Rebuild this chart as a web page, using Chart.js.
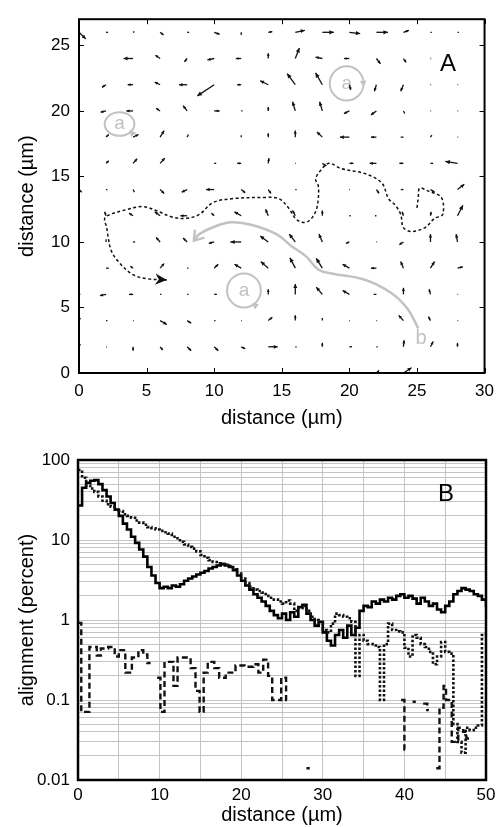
<!DOCTYPE html>
<html>
<head>
<meta charset="utf-8">
<script src="https://cdn.jsdelivr.net/npm/chart.js@4.4.1/dist/chart.umd.min.js"></script>
<style>
  body { margin: 0; background: #fff; width: 502px; height: 827px; overflow: hidden; }
  #wrapA { position: absolute; left: 0; top: 0; width: 502px; height: 430px; }
  #wrapB { position: absolute; left: 0; top: 430px; width: 502px; height: 397px; }
</style>
</head>
<body>
<div id="wrapA"><canvas id="chartA"></canvas></div>
<div id="wrapB"><canvas id="chartB"></canvas></div>
<script>
// ---------- panel A : velocity field ----------
const gridX = [0, 2, 4, 6, 8, 10, 12, 14, 16, 18, 20, 22, 24, 26, 28];
const gridY = [26, 24, 22, 20, 18, 16, 14, 12, 10, 8, 6, 4, 2, 0];
// arrow components (µm) per row of gridY, per column of gridX
const arrowU = [
  [0.5, 0.15, 0.1, 0.25, 0.15, 0.4, 0, 0.3, 0.7, 0.85, 0.8, 0.85, 0.4, 0.1, 0.1],
  [0, 0, -0.7, -0.35, -0.2, -0.5, -0.4, 0, 0.3, -0.5, -0.4, 0.3, 0.2, 0.05, 0],
  [0, -0.3, -0.4, -0.4, -0.6, -1.25, -0.3, -0.6, -0.6, -0.5, 0.1, -0.15, -0.2, 0.05, 0.05],
  [0.1, -0.4, -0.5, -0.3, -0.3, 0.4, 0.1, 0, -0.2, -0.2, -0.4, -0.4, 0.1, 0.05, 0.05],
  [0, 0.2, 0.4, 0.3, 0.1, 0, 0, 0, 0, -0.4, -0.7, -0.4, -0.2, 0.1, 0.05],
  [0, 0.2, 0.3, 0.35, 0, 0.15, -0.3, 0.05, 0.05, 0.3, 0.3, -0.5, -0.3, 0.2, -0.9],
  [0.2, 0.1, 0.1, 0.3, -0.4, -0.6, 0.3, 0.2, 0.1, 0, 0.05, 0.2, -0.2, 0.3, 0.5],
  [0, -0.1, -0.3, -0.4, -0.5, -0.2, -0.5, -0.2, -0.2, 0, 0.1, -0.1, -0.1, 0.05, 0.4],
  [0, 0, 0.15, -0.3, -0.3, -0.4, -0.8, -0.6, -0.45, -0.25, -0.25, 0.05, -0.3, 0, -0.1],
  [0, 0.2, -0.2, 0.3, 0.1, 0.3, -0.5, -0.55, -0.4, -0.45, -0.5, -0.4, -0.2, 0.3, 0.4],
  [0.1, -0.45, -0.3, 0.1, 0.1, 0.2, 0, 0, 0, -0.45, -0.5, -0.2, 0, -0.1, 0.05],
  [0.1, 0.1, 0.05, 0.5, 0.3, 0.1, 0.05, 0.3, 0, 0, 0.05, 0.05, -0.35, -0.15, 0.05],
  [0.1, 0.05, 0, 0.2, 0.3, 0.3, 0.3, 0.7, 0.1, 0, 0.2, 0.1, 0.05, 0.2, 0],
  [0, 0, 0, 0, 0, 0, 0, 0, 0, 0, 0, 0.2, 0.6, 0, 0]
];
const arrowV = [
  [-0.5, 0, 0.05, -0.2, 0, -0.15, -0.2, 0.05, 0.15, 0, -0.1, 0, 0.15, 0, 0],
  [0, 0, 0, 0.25, -0.25, -0.1, 0, 0.4, 0.8, 0.1, 0, -0.4, -0.3, 0, 0],
  [0, -0.2, 0, 0.2, 0, -0.85, 0, 0.3, 0.85, 0.9, -0.4, -0.5, -0.5, 0, 0],
  [0, -0.1, 0, 0.2, 0.4, 0, 0, 0.3, 0.7, 0.7, -0.2, -0.3, -0.2, 0, 0],
  [0, 0.2, 0.2, 0.5, 0.2, 0, 0.15, 0.3, 0.5, 0.4, 0, 0, 0, 0.15, 0],
  [0, 0.2, 0.35, 0.4, 0, 0, 0, 0.4, 0, -0.2, 0, 0, 0, 0, 0.15],
  [-0.2, 0, -0.2, -0.3, -0.2, 0, -0.25, -0.3, 0, 0, 0, -0.3, 0, -0.2, 0.4],
  [0, 0.3, 0.2, 0.3, 0, 0.2, 0.3, 0.5, 0.4, 0.4, 0, 0, 0.3, 0.3, 0.8],
  [0, 0.2, 0, 0.35, 0.3, -0.1, 0, 0.45, 0.6, 0.6, -0.1, 0, -0.2, 0.6, 0.6],
  [0, 0, 0.15, 0.35, 0, 0.3, 0.3, 0.5, 0.8, 0.75, 0.3, 0, 0.5, 0.5, 0.1],
  [0, -0.1, 0, 0, 0, 0, 0, 0.4, 0.8, 0.55, 0.3, 0, 0.5, 0.4, 0],
  [0.2, 0, 0, -0.3, -0.2, 0, 0, 0.25, 0.4, 0.2, 0, 0, 0.4, 0.3, 0],
  [0.2, 0, -0.3, -0.25, -0.3, -0.3, -0.15, 0, 0, 0.3, 0, 0, 0.5, 0.4, 0.3],
  [0, 0, 0, 0, 0, 0, 0, 0, 0, 0, 0, 0.2, 0.4, 0, 0]
];

// dashed trajectory (start on the right, ends at the arrowhead)
const pathX = [25.0, 25.1, 25.2, 25.8, 26.8, 26.9, 26.3, 25.6, 24.6, 24.0, 23.8, 23.4, 22.9, 22.4, 21.2, 19.4, 18.5, 17.9, 17.5, 17.7, 17.7, 17.5, 17.0, 16.5, 16.0, 15.5, 14.8, 13.8, 11.3, 9.9, 8.9, 7.9, 6.9, 5.7, 4.7, 3.25, 2.3, 1.9, 2.05, 2.15, 2.4, 3.0, 4.0, 5.0, 6.5];
const pathY = [12.6, 13.4, 14.1, 13.9, 13.4, 12.1, 11.8, 11.1, 10.8, 11.1, 12.1, 12.8, 13.3, 14.5, 15.2, 15.6, 16.0, 15.5, 14.8, 14.3, 13.3, 12.3, 11.6, 11.5, 11.8, 12.6, 13.3, 13.4, 13.3, 13.0, 12.1, 11.8, 11.9, 12.4, 12.7, 12.4, 12.1, 11.8, 11.1, 10.4, 9.3, 8.4, 7.5, 7.2, 7.1];

// grey drift "b"
const driftX = [25.1, 24.3, 23.1, 21.2, 18.7, 17.7, 16.8, 15.7, 14.6, 12.8, 11.3, 10.1, 8.9, 8.5];
const driftY = [3.4, 4.9, 6.1, 7.1, 7.6, 7.9, 8.9, 9.7, 10.6, 11.3, 11.5, 11.2, 10.6, 10.1];

// grey loops "a"
const loopX = [19.8, 3.0, 12.2];
const loopY = [22.1, 19.0, 6.3];
const loopRx = [1.25, 1.1, 1.25];
const loopRy = [1.3, 0.9, 1.3];
const loopHeadAngle = [5, 40, 55];
const loopHeadDir = [1, -1, -1];
const labelB = { x: 25.3, y: 2.6 };

const ticksA_x = [0, 5, 10, 15, 20, 25, 30];
const ticksA_y = [0, 5, 10, 15, 20, 25];

// ---------- panel B : alignment ----------
const binStep = 0.5;
const solidVals = [
  27, 45, 52, 55, 56, 50, 42, 35, 29, 24,
  20, 16, 13.5, 11, 9.2, 7.6, 6.2, 4.6, 3.6, 2.9,
  2.5, 2.6, 2.5, 2.7, 2.6, 2.8, 3.1, 3.3, 3.5, 3.7,
  3.9, 4.1, 4.4, 4.6, 4.8, 5.0, 4.8, 4.6, 4.2, 3.6,
  3.1, 2.7, 2.4, 2.1, 1.9, 1.7, 1.5, 1.3, 1.15, 1.05,
  1.2, 1.0, 1.25, 1.1, 1.45, 1.55, 1.2, 1.0, 0.85, 0.95,
  0.7, 0.55, 0.48, 0.65, 0.75, 0.6, 0.85, 0.65, 0.8, 1.3,
  1.5, 1.45, 1.7, 1.6, 1.8, 1.7, 1.9, 1.8, 2.0, 2.1,
  1.9, 2.0, 1.85, 1.6, 1.9, 1.7, 1.5, 1.6, 1.35, 1.25,
  1.5, 1.7, 2.1, 2.3, 2.5, 2.4, 2.3, 2.1, 2.0, 1.8,
  1.45
];
const dottedVals = [
  75, 60, 48, 44, 40, 35, 31, 28, 26, 24,
  23, 21, 20, 19, 17.5, 16.5, 15.5, 14.5, 14, 13.5,
  13, 12.5, 12, 11, 10.5, 9.5, 8.8, 8.2, 7.8, 7.2,
  6.5, 6.0, 5.6, 5.3, 5.1, 5.0, 4.9, 4.7, 4.3, 3.8,
  3.3, 2.9, 2.6, 2.4, 2.3, 2.2, 2.0, 1.9, 1.8, 1.7,
  1.6, 1.75, 1.6, 1.3, 1.4, 1.5, 1.3, 1.1, 1.0, 0.9,
  0.75, 0.7, 0.9, 1.2, 1.15, 1.1, 1.05, 0.95, 0.2, 0.65,
  0.55, 0.5, 0.5, 0.46, 0.1, 0.5, 0.9, 0.75, 0.72, 0.7,
  0.45, 0.35, 0.65, 0.6, 0.5, 0.46, 0.4, 0.28, 0.35, 0.53,
  0.4, 0.38, 0.05, 0.03, 0.022, 0.045, 0.042, 0.045, 0.048, 0.65,
  0.7
];
const dashedX = [0, 0.4, 1.4, 2.3, 2.8, 3.7, 4.5, 5.0, 5.8, 6.6, 7.4, 8.0, 8.5, 8.9, 9.0,
  9.7, 10.1, 10.6, 11.7, 12.2, 13.8, 14.4, 14.9, 15.4, 15.9, 16.7, 17.3, 18.1, 19.3, 20.4,
  21.5, 22.1, 22.7, 23.3, 23.8, 24.9, 25.5, 26.0, 26.1, 28.0, 28.4, 28.5,
  39.6, 40.0, 40.3, 40.4, 41.0, 41.4, 41.5, 42.3, 42.8, 43.0, 43.1,
  43.9, 44.3, 44.8, 45.1, 45.8, 46.6, 47.2, 47.6, 48.0, 48.1];
const dashedVals = [0.92, 0.071, 0.46, 0.36, 0.44, 0.46, 0.35, 0.42, 0.22, 0.34, 0.42, 0.37, 0.29, 0.29, null,
  0.19, 0.071, 0.3, 0.15, 0.34, 0.25, 0.13, 0.071, 0.22, 0.3, 0.25, 0.19, 0.22, 0.27, 0.26,
  0.28, 0.22, 0.32, 0.2, 0.1, 0.19, 0.1, 0.1, null, 0.014, 0.014, null,
  0.1, 0.024, 0.024, null, 0.095, 0.095, null, 0.09, 0.075, 0.075, null,
  0.014, 0.08, 0.15, 0.1, 0.03, 0.045, 0.04, 0.033, 0.033, null];

const ticksB_x = [0, 5, 10, 15, 20, 25, 30, 35, 40, 45, 50];
const decadesB = [0.01, 0.1, 1, 10, 100];
const tickLabelsB = ['0.01', '0.1', '1', '10', '100'];
const labelPosB = { x: 45.1, y: 37 };

const FONT = "'Liberation Sans', Arial, Helvetica, sans-serif";

function arrowHead(ctx, x0, y0, x1, y1, size, spread) {
  const a = Math.atan2(y1 - y0, x1 - x0);
  ctx.beginPath();
  ctx.moveTo(x1, y1);
  ctx.lineTo(x1 - size * Math.cos(a - spread), y1 - size * Math.sin(a - spread));
  ctx.lineTo(x1 - size * Math.cos(a + spread), y1 - size * Math.sin(a + spread));
  ctx.closePath();
  ctx.fill();
}

function frame(ctx, area, w) {
  ctx.save();
  ctx.strokeStyle = '#000';
  ctx.lineWidth = w;
  ctx.strokeRect(area.left, area.top, area.right - area.left, area.bottom - area.top);
  ctx.restore();
}

// ---------- chart A ----------
const fieldPlugin = {
  id: 'field',
  beforeDatasetsDraw(chart) {
    const { ctx, scales: { x, y } } = chart;
    ctx.save();
    // grey loops
    ctx.strokeStyle = '#c2c2c2';
    ctx.fillStyle = '#c2c2c2';
    ctx.lineWidth = 2;
    loopX.forEach((cx, i) => {
      const px = x.getPixelForValue(cx), py = y.getPixelForValue(loopY[i]);
      const rx = x.getPixelForValue(cx + loopRx[i]) - px;
      const ry = py - y.getPixelForValue(loopY[i] + loopRy[i]);
      ctx.beginPath();
      ctx.ellipse(px, py, rx, ry, 0, 0, Math.PI * 2);
      ctx.stroke();
      const t = loopHeadAngle[i] * Math.PI / 180;
      const hx = px + rx * Math.cos(t), hy = py + ry * Math.sin(t);
      const dx = Math.sin(t) * loopHeadDir[i], dy = Math.cos(t) * loopHeadDir[i];
      arrowHead(ctx, hx - dx * 6, hy - dy * 6, hx + dx * 2, hy + dy * 2, 7, 0.5);
      ctx.font = '19px ' + FONT;
      ctx.textAlign = 'center';
      ctx.textBaseline = 'middle';
      ctx.fillText('a', px, py);
    });
    ctx.font = '20px ' + FONT;
    ctx.textAlign = 'center';
    ctx.textBaseline = 'middle';
    ctx.fillText('b', x.getPixelForValue(labelB.x), y.getPixelForValue(labelB.y));
    ctx.restore();
  },
  afterDatasetsDraw(chart) {
    const { ctx, scales: { x, y } } = chart;
    ctx.save();
    // quiver arrows
    ctx.strokeStyle = '#111';
    ctx.fillStyle = '#111';
    ctx.lineWidth = 1.3;
    gridY.forEach((gy, r) => {
      gridX.forEach((gx, c) => {
        const u = arrowU[r][c], v = arrowV[r][c];
        if (u === 0 && v === 0) return;
        const x0 = x.getPixelForValue(gx), y0 = y.getPixelForValue(gy);
        const x1 = x.getPixelForValue(gx + u), y1 = y.getPixelForValue(gy + v);
        const len = Math.hypot(x1 - x0, y1 - y0);
        ctx.beginPath();
        ctx.moveTo(x0, y0);
        ctx.lineTo(x1, y1);
        ctx.stroke();
        if (len > 3) arrowHead(ctx, x0, y0, x1, y1, Math.min(5, 1.5 + len * 0.3), 0.45);
      });
    });
    // arrowhead of the dashed trajectory
    const n = pathX.length;
    const ax0 = x.getPixelForValue(pathX[n - 2]), ay0 = y.getPixelForValue(pathY[n - 2]);
    const ax1 = x.getPixelForValue(pathX[n - 1]), ay1 = y.getPixelForValue(pathY[n - 1]);
    const a = Math.atan2(ay1 - ay0, ax1 - ax0);
    ctx.beginPath();
    ctx.moveTo(ax1, ay1);
    ctx.lineTo(ax1 - 13 * Math.cos(a - 0.45), ay1 - 13 * Math.sin(a - 0.45));
    ctx.lineTo(ax1 - 8 * Math.cos(a), ay1 - 8 * Math.sin(a));
    ctx.lineTo(ax1 - 13 * Math.cos(a + 0.45), ay1 - 13 * Math.sin(a + 0.45));
    ctx.closePath();
    ctx.fill();
    // open arrowhead of the grey drift
    const m = driftX.length;
    const bx0 = x.getPixelForValue(driftX[m - 2]), by0 = y.getPixelForValue(driftY[m - 2]);
    const bx1 = x.getPixelForValue(driftX[m - 1]), by1 = y.getPixelForValue(driftY[m - 1]);
    const b = Math.atan2(by1 - by0, bx1 - bx0);
    ctx.strokeStyle = '#c2c2c2';
    ctx.lineWidth = 2.5;
    ctx.beginPath();
    ctx.moveTo(bx1 - 11 * Math.cos(b - 0.6), by1 - 11 * Math.sin(b - 0.6));
    ctx.lineTo(bx1, by1);
    ctx.lineTo(bx1 - 11 * Math.cos(b + 0.6), by1 - 11 * Math.sin(b + 0.6));
    ctx.stroke();
    ctx.restore();
  },
  afterDraw(chart) {
    const { ctx, chartArea, scales: { x, y } } = chart;
    frame(ctx, chartArea, 2);
    ctx.save();
    ctx.strokeStyle = '#000';
    ctx.lineWidth = 1;
    ticksA_x.forEach(v => {
      const px = Math.round(x.getPixelForValue(v)) + 0.5;
      ctx.beginPath();
      ctx.moveTo(px, chartArea.bottom); ctx.lineTo(px, chartArea.bottom - 5);
      ctx.moveTo(px, chartArea.top); ctx.lineTo(px, chartArea.top + 5);
      ctx.stroke();
    });
    ticksA_y.forEach(v => {
      const py = Math.round(y.getPixelForValue(v)) + 0.5;
      ctx.beginPath();
      ctx.moveTo(chartArea.left, py); ctx.lineTo(chartArea.left + 5, py);
      ctx.moveTo(chartArea.right, py); ctx.lineTo(chartArea.right - 5, py);
      ctx.stroke();
    });
    ctx.fillStyle = '#000';
    ctx.font = '24px ' + FONT;
    ctx.textAlign = 'center';
    ctx.textBaseline = 'middle';
    ctx.fillText('A', x.getPixelForValue(27.3), y.getPixelForValue(23.55));
    ctx.restore();
  }
};

new Chart(document.getElementById('chartA'), {
  type: 'scatter',
  data: {
    datasets: [
      {
        data: pathX.map((v, i) => ({ x: v, y: pathY[i] })),
        showLine: true,
        borderColor: '#111',
        borderWidth: 1.5,
        borderDash: [3, 2.5],
        tension: 0.35,
        pointRadius: 0
      },
      {
        data: driftX.map((v, i) => ({ x: v, y: driftY[i] })),
        showLine: true,
        borderColor: '#c2c2c2',
        borderWidth: 2.5,
        tension: 0.4,
        pointRadius: 0
      }
    ]
  },
  options: {
    responsive: true,
    maintainAspectRatio: false,
    animation: false,
    devicePixelRatio: 1,
    layout: { padding: { top: 8, right: 15, left: 0, bottom: 0 } },
    plugins: { legend: { display: false }, tooltip: { enabled: false } },
    scales: {
      x: {
        type: 'linear', min: 0, max: 30,
        afterBuildTicks: s => { s.ticks = ticksA_x.map(v => ({ value: v })); },
        afterFit: s => { s.height = 57; },
        grid: { display: false, drawTicks: false },
        border: { display: false },
        ticks: { color: '#000', padding: 8, font: { family: FONT, size: 17 }, maxRotation: 0 },
        title: { display: true, text: 'distance (µm)', color: '#000', font: { family: FONT, size: 20 }, padding: { top: 0, bottom: 0 } }
      },
      y: {
        type: 'linear', min: 0, max: 27,
        afterBuildTicks: s => { s.ticks = ticksA_y.map(v => ({ value: v })); },
        afterFit: s => { s.width = 79; },
        grid: { display: false, drawTicks: false },
        border: { display: false },
        ticks: { color: '#000', padding: 9, font: { family: FONT, size: 17 } },
        title: { display: true, text: 'distance (µm)', color: '#000', font: { family: FONT, size: 20 }, padding: { top: 15, bottom: 0 } }
      }
    }
  },
  plugins: [fieldPlugin]
});

// ---------- chart B ----------
const logGrid = [];
decadesB.slice(0, -1).forEach(d => { for (let k = 1; k <= 9; k++) logGrid.push(+(d * k).toPrecision(3)); });
logGrid.push(100);

const binX = solidVals.map((_, i) => i * binStep);

const framePluginB = {
  id: 'frameB',
  afterDraw(chart) {
    const { ctx, chartArea, scales: { x, y } } = chart;
    frame(ctx, chartArea, 2.5);
    ctx.save();
    ctx.fillStyle = '#000';
    ctx.font = '24px ' + FONT;
    ctx.textAlign = 'center';
    ctx.textBaseline = 'middle';
    ctx.fillText('B', x.getPixelForValue(labelPosB.x), y.getPixelForValue(labelPosB.y));
    ctx.restore();
  }
};

new Chart(document.getElementById('chartB'), {
  type: 'line',
  data: {
    datasets: [
      {
        data: binX.map((v, i) => ({ x: v, y: dottedVals[i] })),
        borderColor: '#111', borderWidth: 2.6, borderDash: [2.5, 2],
        stepped: true, pointRadius: 0, fill: false
      },
      {
        data: dashedX.map((v, i) => ({ x: v, y: dashedVals[i] })),
        borderColor: '#111', borderWidth: 2.4, borderDash: [6, 3.5],
        stepped: true, pointRadius: 0, fill: false, spanGaps: false
      },
      {
        data: binX.map((v, i) => ({ x: v, y: solidVals[i] })),
        borderColor: '#000', borderWidth: 2.6,
        stepped: true, pointRadius: 0, fill: false
      }
    ]
  },
  options: {
    responsive: true,
    maintainAspectRatio: false,
    animation: false,
    devicePixelRatio: 1,
    layout: { padding: { top: 30, right: 16, left: 0, bottom: 0 } },
    plugins: { legend: { display: false }, tooltip: { enabled: false } },
    scales: {
      x: {
        type: 'linear', min: 0, max: 50,
        afterBuildTicks: s => { s.ticks = ticksB_x.map(v => ({ value: v })); },
        afterFit: s => { s.height = 47; },
        grid: { color: '#c4c4c4', lineWidth: 1, drawTicks: false },
        border: { display: false },
        ticks: {
          color: '#000', padding: 5, maxRotation: 0, autoSkip: false,
          font: { family: FONT, size: 17 },
          callback: v => (v % 10 === 0 ? String(v) : '')
        },
        title: { display: true, text: 'distance (µm)', color: '#000', font: { family: FONT, size: 20 }, padding: { top: 0, bottom: 0 } }
      },
      y: {
        type: 'logarithmic', min: 0.01, max: 100,
        afterBuildTicks: s => { s.ticks = logGrid.map(v => ({ value: v })); },
        afterFit: s => { s.width = 78; },
        grid: { color: '#c4c4c4', lineWidth: 1, drawTicks: false },
        border: { display: false },
        ticks: {
          color: '#000', padding: 8, autoSkip: false,
          font: { family: FONT, size: 17 },
          callback: v => {
            const k = decadesB.findIndex(d => Math.abs(d - v) < d * 1e-6);
            return k >= 0 ? tickLabelsB[k] : '';
          }
        },
        title: { display: true, text: 'alignment (percent)', color: '#000', font: { family: FONT, size: 20 }, padding: { top: 15, bottom: 0 } }
      }
    }
  },
  plugins: [framePluginB]
});
</script>
</body>
</html>
